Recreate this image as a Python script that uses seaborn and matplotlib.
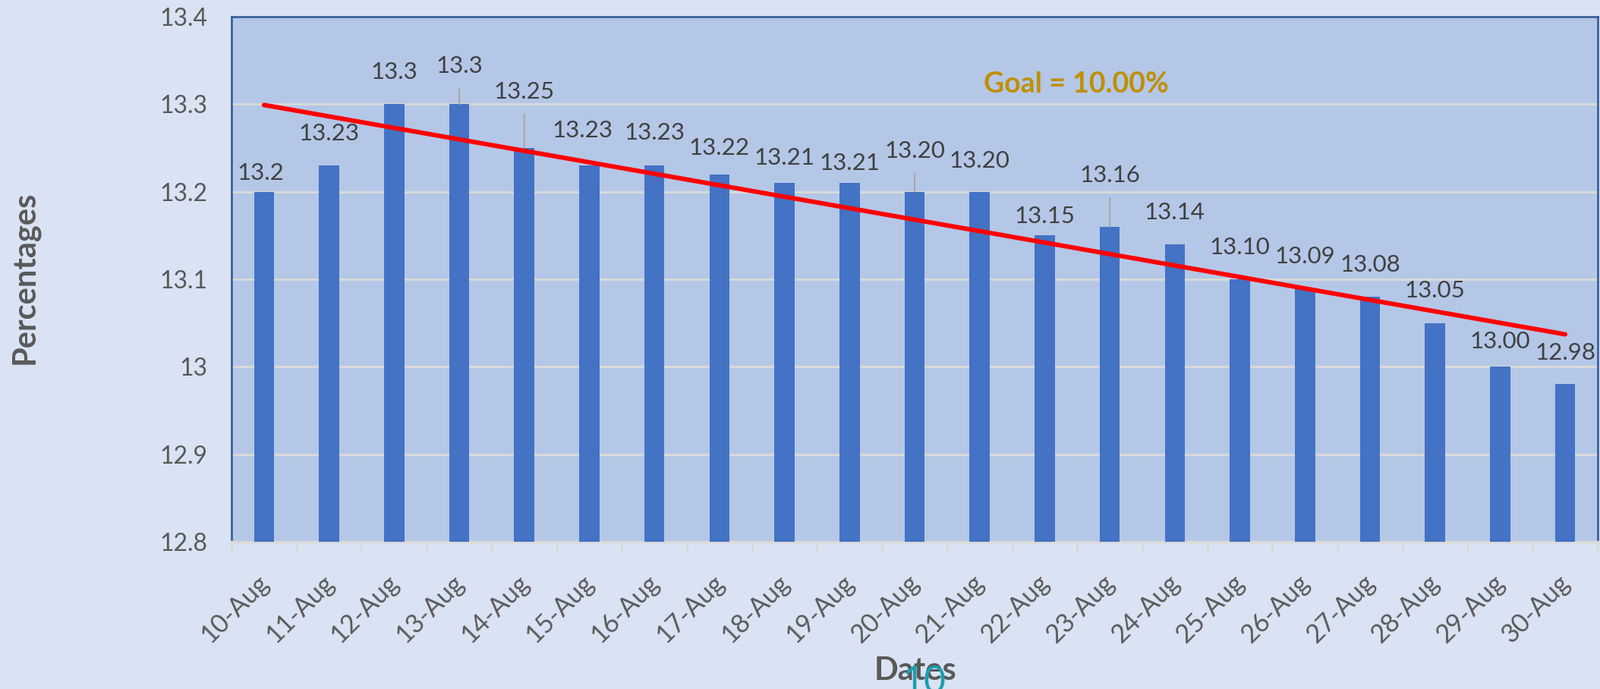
import numpy as np
import pandas as pd
import matplotlib
matplotlib.use("Agg")
import matplotlib.pyplot as plt
import matplotlib.transforms as mtransforms
import seaborn as sns

# ---------------- data ----------------
dates = ["10-Aug", "11-Aug", "12-Aug", "13-Aug", "14-Aug", "15-Aug", "16-Aug",
         "17-Aug", "18-Aug", "19-Aug", "20-Aug", "21-Aug", "22-Aug", "23-Aug",
         "24-Aug", "25-Aug", "26-Aug", "27-Aug", "28-Aug", "29-Aug", "30-Aug"]
values = [13.2, 13.23, 13.3, 13.3, 13.25, 13.23, 13.23, 13.22, 13.21, 13.21,
          13.20, 13.20, 13.15, 13.16, 13.14, 13.10, 13.09, 13.08, 13.05, 13.00, 12.98]
value_labels = ["13.2", "13.23", "13.3", "13.3", "13.25", "13.23", "13.23", "13.22",
                "13.21", "13.21", "13.20", "13.20", "13.15", "13.16", "13.14", "13.10",
                "13.09", "13.08", "13.05", "13.00", "12.98"]
y_ticks = [12.8, 12.9, 13.0, 13.1, 13.2, 13.3, 13.4]
y_tick_labels = ["12.8", "12.9", "13", "13.1", "13.2", "13.3", "13.4"]
goal_text = "Goal = 10.00%"

# ---------------- label placement (layout only) ----------------
label_rise_px = [25, 42, 42, 50, 74, 46, 43, 35, 33, 26, 54, 41, 25, 68, 42, 42, 42, 42, 43, 33, 41]
label_shift_px = [-4, 0, 0, 0, 0, -9, 0, 0, 0, 0, 0, 0, 0, 0, 0, 0, 0, 0, 0, 0, 0]
leader_idx = {3, 4, 10, 13}

# ---------------- style ----------------
FIG_BG = "#DAE3F3"
AX_BG = "#B4C7E7"
BAR = "#4472C4"
GRID = "#D9D9D9"
SPINE = "#2F5597"
TXT = "#595959"
LBL = "#404040"

sns.set_theme(style="white")
plt.rcParams["font.family"] = ["Lato", "DejaVu Sans"]

fig = plt.figure(figsize=(21.08, 9.08), dpi=100, facecolor=FIG_BG)
ax = fig.add_axes([305 / 2108, 1 - 714 / 908, 1800 / 2108, 692 / 908])
ax.set_facecolor(AX_BG)

df = pd.DataFrame({"Dates": dates, "Percentages": values})
sns.barplot(data=df, x="Dates", y="Percentages", color=BAR, saturation=1,
            width=0.31, ax=ax, zorder=3, errorbar=None, linewidth=0)

# linear trend line
idx = np.arange(len(values))
sns.regplot(x=idx, y=np.array(values), scatter=False, ci=None, truncate=True, ax=ax,
            line_kws=dict(color="#FF0000", lw=4.3, solid_capstyle="round", zorder=5))

ax.set_xlim(-0.5, len(values) - 0.5)
ax.set_ylim(12.8, 13.4)
ax.set_yticks(y_ticks)
ax.set_yticklabels(y_tick_labels)
ax.yaxis.grid(True, color=GRID, lw=2.2, zorder=0)
ax.set_axisbelow(True)

ax.tick_params(axis="y", length=0, pad=23, labelsize=23, labelcolor=TXT)
ax.tick_params(axis="x", which="major", length=0, pad=27, labelsize=24.5, labelcolor=TXT)
ax.set_xticks(np.arange(-0.5, len(values), 1.0), minor=True)
ax.tick_params(axis="x", which="minor", length=9, width=2, color=GRID, direction="out",
               bottom=True)

offset = mtransforms.ScaledTranslation(12 / 100, 0, fig.dpi_scale_trans)
for lab in ax.get_xticklabels():
    lab.set_rotation(45)
    lab.set_ha("right")
    lab.set_va("top")
    lab.set_transform(lab.get_transform() + offset)

for side in ["left", "top", "right"]:
    ax.spines[side].set_visible(True)
    ax.spines[side].set_color(SPINE)
    ax.spines[side].set_linewidth(1.8)
ax.spines["bottom"].set_visible(True)
ax.spines["bottom"].set_color(GRID)
ax.spines["bottom"].set_linewidth(2.5)

ax.set_xlabel("")
ax.set_ylabel("")
fig.text(1206 / 2108, 1 - 884 / 908, "Dates", ha="center", va="center",
         fontsize=30, fontweight="bold", color=TXT)
fig.text(32 / 2108, 1 - 366 / 908, "Percentages", rotation=90, ha="center", va="center",
         fontsize=30, fontweight="bold", color=TXT)

# data labels
for i, (v, t) in enumerate(zip(values, value_labels)):
    dy = label_rise_px[i] * 0.72
    dx = label_shift_px[i] * 0.72
    if i in leader_idx:
        ax.annotate(t, xy=(i, v), xytext=(dx, dy), textcoords="offset points",
                    ha="center", va="center", fontsize=22.5, color=LBL, zorder=6,
                    arrowprops=dict(arrowstyle="-", color="#A6A6A6", lw=1.5,
                                    shrinkA=9, shrinkB=0))
    else:
        ax.annotate(t, xy=(i, v), xytext=(dx, dy), textcoords="offset points",
                    ha="center", va="center", fontsize=22.5, color=LBL, zorder=6)

# goal annotation
fig.text(1418 / 2108, 1 - 111 / 908, goal_text, ha="center", va="center",
         fontsize=27, fontweight="bold", color="#BF9000")

# stray page number visible at the bottom of the source
fig.text(1218 / 2108, 1 - 876 / 908, "10", ha="center", va="top",
         fontsize=36, fontweight="normal", color="#1A9FAF", zorder=10)

fig.savefig("out.png", dpi=100, facecolor=FIG_BG)
